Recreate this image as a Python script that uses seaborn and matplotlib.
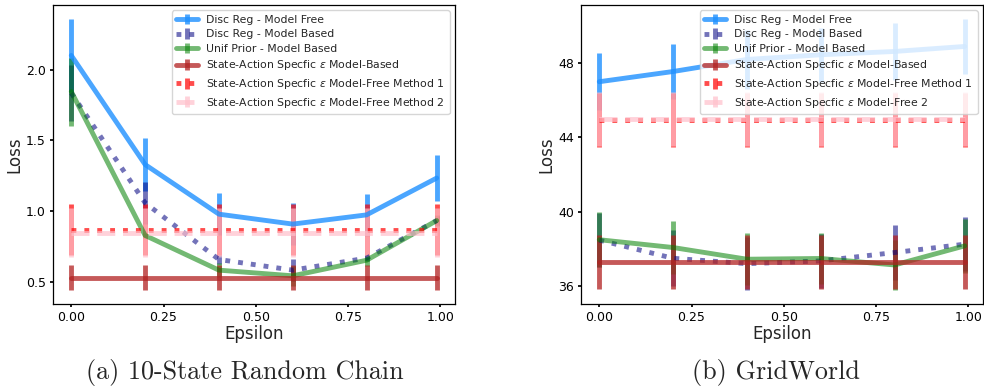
import matplotlib
matplotlib.use("Agg")
import matplotlib.pyplot as plt
import seaborn as sns

# Epsilon values shared by both experiments
epsilon = [0.0, 0.2, 0.4, 0.6, 0.8, 0.99]

series_labels_chain = [
    "Disc Reg - Model Free",
    "Disc Reg - Model Based",
    "Unif Prior - Model Based",
    r"State-Action Specfic $\epsilon$ Model-Based",
    r"State-Action Specfic $\epsilon$ Model-Free Method 1",
    r"State-Action Specfic $\epsilon$ Model-Free Method 2",
]
series_labels_grid = series_labels_chain[:5] + [
    r"State-Action Specfic $\epsilon$ Model-Free 2",
]

# 10-state random chain: mean loss and error half-widths
chain_disc_free = [2.10, 1.33, 0.98, 0.91, 0.975, 1.235]
chain_disc_free_err = [0.26, 0.185, 0.15, 0.15, 0.15, 0.16]
chain_disc_based = [1.835, 1.06, 0.66, 0.585, 0.67, 0.935]
chain_disc_based_err = [0.20, 0.15, 0.03, 0.08, 0.02, 0.03]
chain_unif_based = [1.845, 0.83, 0.585, 0.545, 0.655, 0.935]
chain_unif_based_err = [0.24, 0.02, 0.05, 0.07, 0.04, 0.04]
chain_sa_based = [0.53, 0.53, 0.53, 0.53, 0.53, 0.53]
chain_sa_based_err = [0.088, 0.088, 0.088, 0.088, 0.088, 0.088]
chain_sa_free1 = [0.87, 0.87, 0.87, 0.87, 0.87, 0.87]
chain_sa_free1_err = [0.18, 0.18, 0.18, 0.18, 0.18, 0.18]
chain_sa_free2 = [0.85, 0.85, 0.85, 0.85, 0.85, 0.85]
chain_sa_free2_err = [0.175, 0.175, 0.175, 0.175, 0.175, 0.175]

# GridWorld: mean loss and error half-widths
grid_disc_free = [47.0, 47.55, 48.2, 48.45, 48.63, 48.9]
grid_disc_free_err = [1.54, 1.5, 1.6, 1.45, 1.54, 1.5]
grid_disc_based = [38.47, 37.49, 37.2, 37.35, 37.8, 38.25]
grid_disc_based_err = [1.45, 1.5, 1.44, 1.45, 1.48, 1.45]
grid_unif_based = [38.49, 38.07, 37.44, 37.48, 37.13, 38.16]
grid_unif_based_err = [1.48, 1.45, 1.4, 1.37, 1.37, 1.44]
grid_sa_based = [37.31, 37.31, 37.31, 37.31, 37.31, 37.31]
grid_sa_based_err = [1.46, 1.46, 1.46, 1.46, 1.46, 1.46]
grid_sa_free1 = [44.93, 44.93, 44.93, 44.93, 44.93, 44.93]
grid_sa_free1_err = [1.45, 1.45, 1.45, 1.45, 1.45, 1.45]
grid_sa_free2 = [45.0, 45.0, 45.0, 45.0, 45.0, 45.0]
grid_sa_free2_err = [1.45, 1.45, 1.45, 1.45, 1.45, 1.45]

x_ticks = [0.0, 0.25, 0.5, 0.75, 1.0]
chain_y_ticks = [0.5, 1.0, 1.5, 2.0]
grid_y_ticks = [36, 40, 44, 48]

sns.set_theme(style="ticks")
plt.rcParams.update({
    "font.family": ["DejaVu Sans"],
    "axes.edgecolor": "black",
    "axes.linewidth": 0.9,
    "xtick.color": "black",
    "ytick.color": "black",
    "xtick.labelsize": 9,
    "ytick.labelsize": 9,
    "axes.labelsize": 12,
    "legend.fontsize": 7.8,
    "legend.labelspacing": 0.42,
    "xtick.major.size": 2.5,
    "ytick.major.size": 2.5,
    "xtick.major.pad": 2.6,
    "ytick.major.pad": 2.6,
})

styles = [
    dict(color="dodgerblue", alpha=0.8, ls="-"),
    dict(color="navy", alpha=0.55, ls=":"),
    dict(color="green", alpha=0.55, ls="-"),
    dict(color="firebrick", alpha=0.75, ls="-"),
    dict(color="red", alpha=0.7, ls=":"),
    dict(color="pink", alpha=0.7, ls="--"),
]


def draw_panel(ax, series, labels, yticks):
    for (mean, err), label, st in zip(series, labels, styles):
        ax.errorbar(epsilon, mean, yerr=err, label=label, color=st["color"],
                    alpha=st["alpha"], linestyle=st["ls"], linewidth=3.5,
                    elinewidth=3.5, capsize=0)
    ax.set_xticks(x_ticks)
    ax.set_xticklabels([f"{t:.2f}" for t in x_ticks])
    ax.set_yticks(yticks)
    ax.set_xlabel("Epsilon", labelpad=1)
    ax.set_ylabel("Loss", labelpad=2)
    ax.legend(loc="upper right", framealpha=0.8)


fig = plt.figure(figsize=(9.84, 3.92), dpi=100)
ax1 = fig.add_axes([53 / 984, 88 / 392, 402 / 984, 299 / 392])
ax2 = fig.add_axes([581 / 984, 88 / 392, 402 / 984, 299 / 392])

draw_panel(ax1, [
    (chain_disc_free, chain_disc_free_err),
    (chain_disc_based, chain_disc_based_err),
    (chain_unif_based, chain_unif_based_err),
    (chain_sa_based, chain_sa_based_err),
    (chain_sa_free1, chain_sa_free1_err),
    (chain_sa_free2, chain_sa_free2_err),
], series_labels_chain, chain_y_ticks)
ax1.set_yticklabels([f"{t:.1f}" for t in chain_y_ticks])

draw_panel(ax2, [
    (grid_disc_free, grid_disc_free_err),
    (grid_disc_based, grid_disc_based_err),
    (grid_unif_based, grid_unif_based_err),
    (grid_sa_based, grid_sa_based_err),
    (grid_sa_free1, grid_sa_free1_err),
    (grid_sa_free2, grid_sa_free2_err),
], series_labels_grid, grid_y_ticks)

fig.text(245 / 984, 1 - 372 / 392, "(a) 10-State Random Chain",
         family="cmr10", fontsize=18.8, ha="center", va="center")
fig.text(776 / 984, 1 - 372 / 392, "(b) GridWorld",
         family="cmr10", fontsize=18.8, ha="center", va="center")

fig.savefig("out.png", dpi=100)
